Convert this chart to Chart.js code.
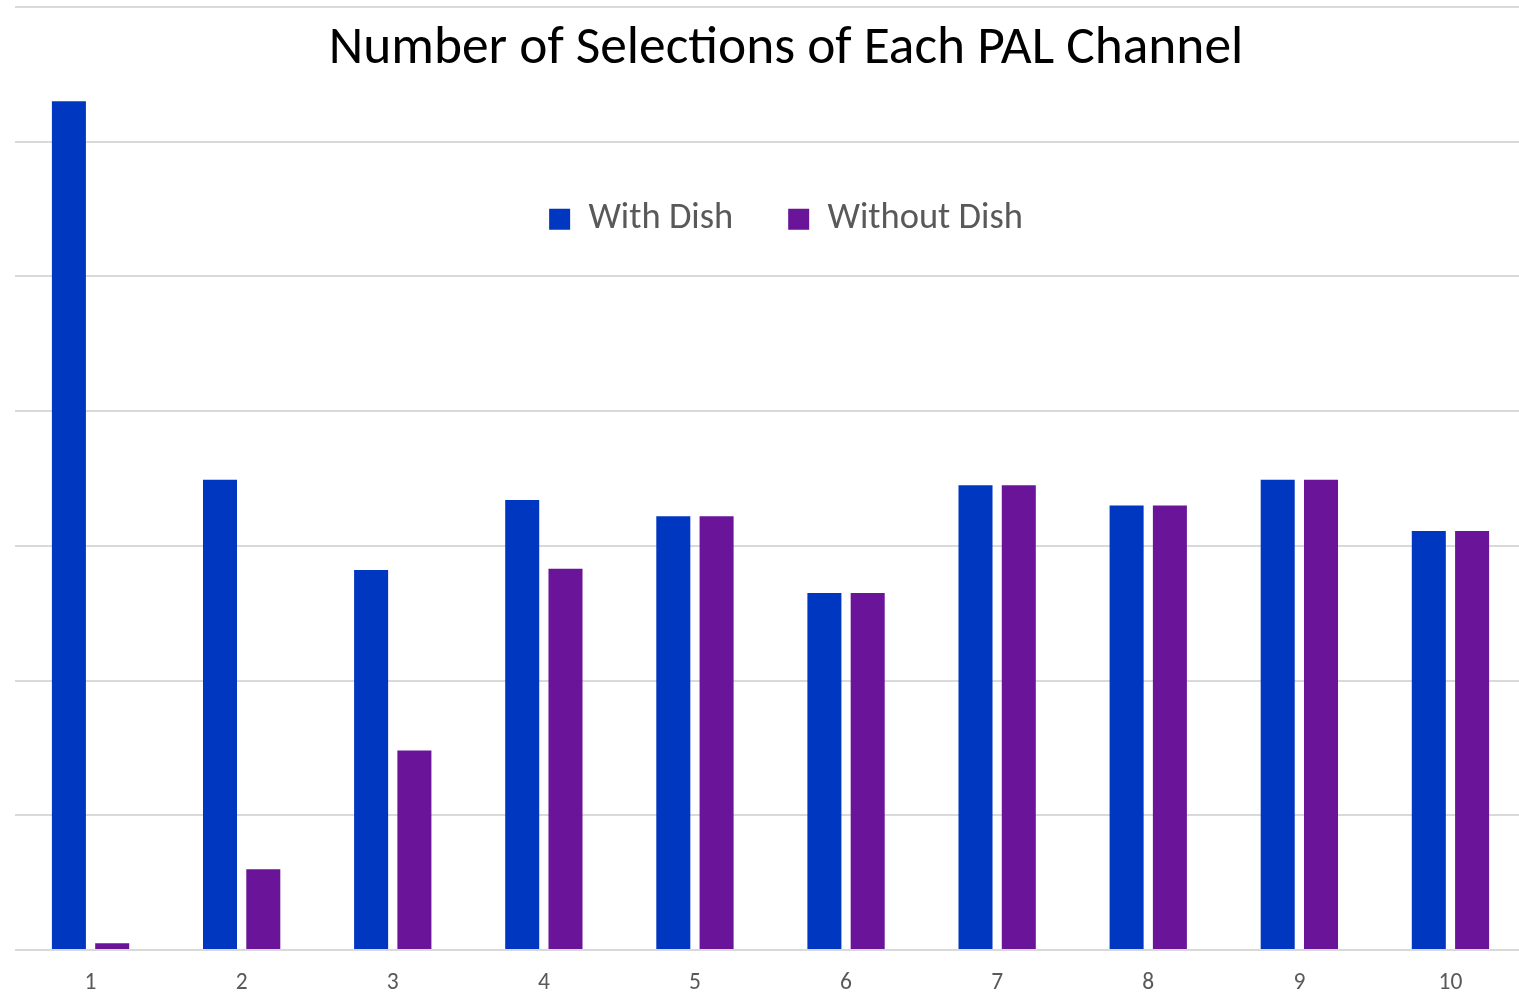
<!DOCTYPE html>
<html>
<head>
<meta charset="utf-8">
<script src="https://cdn.jsdelivr.net/npm/chart.js@4.4.1/dist/chart.umd.min.js"></script>
<style>
  html, body { margin: 0; padding: 0; background: #ffffff; overflow: hidden; }
  #wrap { position: relative; width: 1519px; height: 995px; overflow: hidden; }
  #main { position: absolute; left: 0; top: 0; }
  #over { position: absolute; left: 0; top: 0; pointer-events: none; }
</style>
</head>
<body>
<div id="wrap">
  <canvas id="main" width="1526" height="995"></canvas>
  <canvas id="over" width="1526" height="260"></canvas>
</div>
<script>
const chartTitle = 'Number of Selections of Each PAL Channel';
const categories = ['1', '2', '3', '4', '5', '6', '7', '8', '9', '10'];
const seriesNames = ['With Dish', 'Without Dish'];
const withDish = [630, 349, 282, 334, 322, 265, 345, 330, 349, 311];
const withoutDish = [5, 60, 148, 283, 322, 265, 345, 330, 349, 311];
const yMax = 700;
const yStep = 100;

const BLUE = '#0037C1';
const PURPLE = '#6A1599';
const FONT = 'Carlito, Calibri, Lato, sans-serif';

Chart.defaults.font.family = FONT;
Chart.defaults.animation = false;

new Chart(document.getElementById('main'), {
  type: 'bar',
  data: {
    labels: categories,
    datasets: [
      { label: seriesNames[0], data: withDish, backgroundColor: BLUE, borderWidth: 0, xAxisID: 'x', yAxisID: 'y' },
      { label: seriesNames[1], data: withoutDish, backgroundColor: PURPLE, borderWidth: 0, xAxisID: 'x', yAxisID: 'y' }
    ]
  },
  options: {
    responsive: false,
    devicePixelRatio: 1,
    animation: false,
    categoryPercentage: 0.573,
    barPercentage: 0.786,
    layout: { padding: { top: 7, left: 15, right: 0, bottom: 0 } },
    plugins: { legend: { display: false }, title: { display: false }, tooltip: { enabled: false } },
    scales: {
      x: {
        type: 'category',
        grid: { display: false, drawTicks: false },
        border: { display: false },
        ticks: { color: '#595959', font: { size: 23.5 }, padding: 19 },
        afterFit: (scale) => { scale.height = 45; }
      },
      y: {
        min: 0, max: yMax,
        ticks: { display: false, stepSize: yStep },
        grid: { color: '#d9d9d9', lineWidth: 2, drawTicks: false },
        border: { display: false }
      }
    }
  }
});

new Chart(document.getElementById('over'), {
  type: 'bar',
  data: {
    labels: [],
    datasets: [
      { label: seriesNames[0], data: [], backgroundColor: BLUE, borderWidth: 0 },
      { label: seriesNames[1], data: [], backgroundColor: PURPLE, borderWidth: 0 }
    ]
  },
  options: {
    responsive: false,
    devicePixelRatio: 1,
    animation: false,
    layout: { padding: { top: 0, left: 46, right: 0, bottom: 0 } },
    scales: { x: { display: false }, y: { display: false } },
    plugins: {
      tooltip: { enabled: false },
      title: {
        display: true, text: chartTitle, color: '#000000',
        font: { size: 53.4, weight: 'normal' },
        padding: { top: 18, bottom: 64 }
      },
      legend: {
        display: true, position: 'top', align: 'center',
        labels: { boxWidth: 21, boxHeight: 21, color: '#595959', font: { size: 36.5 }, padding: 55 }
      }
    }
  }
});
</script>
</body>
</html>
